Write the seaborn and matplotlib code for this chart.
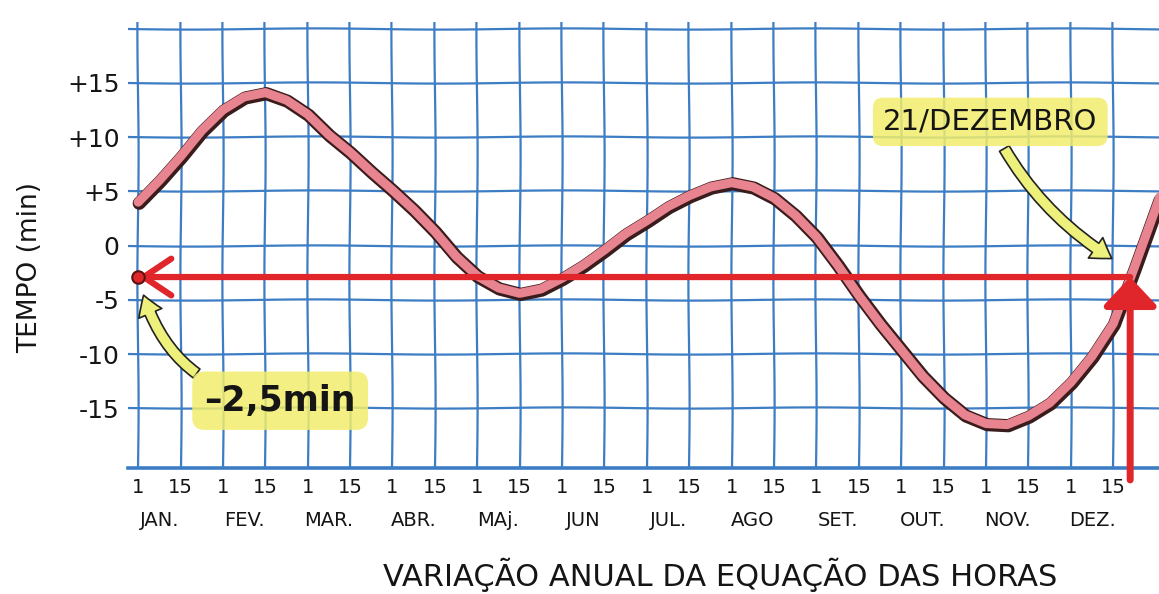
import matplotlib
matplotlib.use("Agg")
import matplotlib.pyplot as plt
import matplotlib.patheffects as pe
import pandas as pd
import seaborn as sns

# x position in half-months: 0 = 1 Jan, 1 = 15 Jan, 2 = 1 Feb ... 23 = 15 Dez
half_month_pos = [0, 0.5, 1, 1.5, 2, 2.5, 3, 3.5, 4, 4.5, 5, 5.5, 6, 6.5, 7, 7.5,
                  8, 8.5, 9, 9.5, 10, 10.5, 11, 11.5, 12, 12.5, 13, 13.5, 14, 14.5,
                  15, 15.5, 16, 16.5, 17, 17.5, 18, 18.5, 19, 19.5, 20, 20.5, 21,
                  21.5, 22, 22.5, 23, 23.5, 24.1]
# equation of time (minutes)
eot_min = [4.0, 6.0, 8.2, 10.6, 12.5, 13.7, 14.1, 13.4, 12.1, 10.2, 8.6, 6.8, 5.1,
           3.3, 1.3, -1.0, -2.8, -3.9, -4.4, -4.0, -3.0, -1.8, -0.4, 1.1, 2.3, 3.6,
           4.6, 5.4, 5.8, 5.4, 4.4, 2.8, 0.8, -1.8, -4.6, -7.2, -9.6, -12.0, -14.0,
           -15.6, -16.4, -16.5, -15.7, -14.5, -12.6, -10.2, -7.2, -2.0, 4.5]

day_labels = ["1", "15"] * 12
months = ["JAN.", "FEV.", "MAR.", "ABR.", "MAj.", "JUN", "JUL.", "AGO",
          "SET.", "OUT.", "NOV.", "DEZ."]
y_ticks = [15, 10, 5, 0, -5, -10, -15]
y_tick_labels = ["+15", "+10", "+5", "0", "-5", "-10", "-15"]

dec21_pos = 23.4      # 21 de dezembro
line_level = -2.9     # where the "-2,5 min" line is drawn

grid_blue = "#3c7dc4"
red = "#e0262b"
pink = "#e8848f"
outline = "#3b1c1c"
yellow = "#f2ed6c"

sns.set_theme(style="white")
plt.rcParams["font.family"] = ["DejaVu Sans"]

fig = plt.figure(figsize=(11.59, 5.94), dpi=100)
ax = fig.add_axes([0.1104, 0.2121, 0.8896, 0.7508])
ax.set_xlim(-0.24, 24.08)
ax.set_ylim(-20.5, 20.6)

# hand-drawn looking grid paper (light wobble only)
for i in range(24):
    ln = ax.axvline(i, color=grid_blue, lw=1.6, zorder=1)
    ln.set_sketch_params(0.6, 250, 1)
for v in range(-15, 25, 5):
    ln = ax.axhline(v, color=grid_blue, lw=1.6, zorder=1)
    ln.set_sketch_params(0.6, 250, 1)

for s in ["top", "right", "left"]:
    ax.spines[s].set_visible(False)
ax.spines["bottom"].set_color(grid_blue)
ax.spines["bottom"].set_linewidth(2.6)

# the curve: pink ribbon with dark outline
df = pd.DataFrame({"pos": half_month_pos, "eot": eot_min})
sns.lineplot(data=df, x="pos", y="eot", ax=ax, color=pink, lw=6.5, sort=False,
             zorder=5, solid_joinstyle="round",
             path_effects=[pe.Stroke(linewidth=9.5, foreground=outline, offset=(0.8, -0.8)),
                           pe.Normal()])

# red horizontal arrow pointing left to the axis
ax.annotate("", xy=(0, line_level), xytext=(dec21_pos, line_level),
            arrowprops=dict(arrowstyle="->,head_length=0.9,head_width=0.6",
                            mutation_scale=22, lw=4.5, color=red,
                            shrinkA=0, shrinkB=0), zorder=6)
ax.plot([0], [line_level], "o", ms=9, mfc=red, mec="#5a1212", mew=1.5, zorder=7)

# red vertical arrow pointing up at 21/Dez
ax.annotate("", xy=(dec21_pos, line_level), xytext=(dec21_pos, -21.6),
            arrowprops=dict(arrowstyle="-|>,head_length=0.8,head_width=0.75",
                            mutation_scale=22, lw=5, color=red,
                            shrinkA=0, shrinkB=0),
            annotation_clip=False, zorder=6)

# yellow callouts
ax.annotate("–2,5min", xy=(0.1, -4.2), xytext=(3.35, -14.3),
            fontsize=25, fontweight="bold", color="#151515", ha="center", va="center",
            bbox=dict(boxstyle="round,pad=0.35", fc=yellow, ec="none", alpha=0.85),
            arrowprops=dict(arrowstyle="simple,head_width=0.9,head_length=0.7,tail_width=0.4",
                            fc="#eef07c", ec="#222222", lw=1.2, mutation_scale=20,
                            connectionstyle="arc3,rad=-0.35", shrinkA=0, shrinkB=3),
            zorder=8)
ax.annotate("21/DEZEMBRO", xy=(23.05, -1.4), xytext=(20.1, 11.4),
            fontsize=21, color="#151515", ha="center", va="center",
            bbox=dict(boxstyle="round,pad=0.35", fc=yellow, ec="none", alpha=0.85),
            arrowprops=dict(arrowstyle="simple,head_width=0.9,head_length=0.7,tail_width=0.4",
                            fc="#eef07c", ec="#222222", lw=1.2, mutation_scale=20,
                            connectionstyle="arc3,rad=0.15", shrinkA=2, shrinkB=3),
            zorder=8)

# axes labels
ax.set_xticks(range(24))
ax.set_xticklabels(day_labels, fontsize=14, color="#151515")
ax.tick_params(axis="x", length=0, pad=7)
ax.set_yticks(y_ticks)
ax.set_yticklabels(y_tick_labels, fontsize=18, color="#151515")
ax.tick_params(axis="y", length=0, pad=6)
ax.set_xlabel("")
ax.set_ylabel("")

for k, m in enumerate(months):
    ax.text(2 * k + 0.5, -0.118, m, transform=ax.get_xaxis_transform(),
            ha="center", va="center", fontsize=14, color="#151515")

fig.text(0.026, 0.549, "TEMPO (min)", rotation=90, ha="center", va="center",
         fontsize=19, color="#151515")
fig.text(0.621, 0.032, "VARIAÇÃO ANUAL DA EQUAÇÃO DAS HORAS", ha="center",
         va="center", fontsize=22, color="#151515")

fig.savefig("out.png", dpi=100)
